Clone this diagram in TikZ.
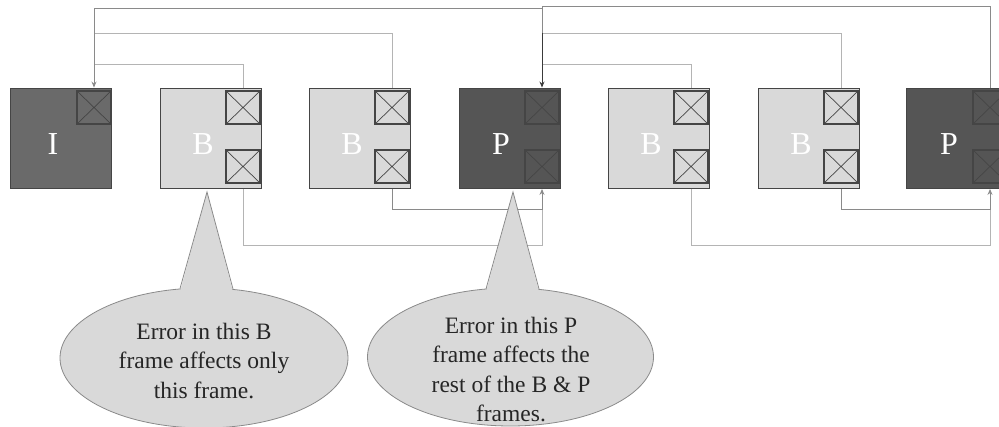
\documentclass[tikz,border=0pt]{standalone}
\usepackage{fontspec}
\setmainfont{Liberation Serif}
\usetikzlibrary{shapes.geometric,arrows.meta,calc}
\definecolor{bfill}{HTML}{D9D9D9}
\definecolor{ifill}{HTML}{6A6A6A}
\definecolor{pfill}{HTML}{555555}
\definecolor{edgec}{HTML}{454545}
\definecolor{lightln}{HTML}{B4B4B4}
\definecolor{midln}{HTML}{8A8A8A}
\definecolor{darkln}{HTML}{3A3A3A}
\definecolor{txtc}{HTML}{262626}
\tikzset{
  framebox/.style={draw=edgec, line width=0.9pt, minimum width=101.5pt, minimum height=100.5pt, inner sep=0pt},
  xbox/.style={draw=edgec, line width=1.1pt, minimum width=34pt, minimum height=33pt, inner sep=0pt,
    path picture={\draw[edgec, line width=0.7pt] (path picture bounding box.north west) -- (path picture bounding box.south east)
      (path picture bounding box.north east) -- (path picture bounding box.south west);}},
  lbl/.style={text=white, font=\fontsize{32}{34}\selectfont, inner sep=0pt},
  lnlight/.style={draw=lightln, line width=0.9pt},
  lnmid/.style={draw=midln, line width=0.9pt},
  lndark/.style={draw=darkln, line width=0.9pt},
  tip/.style={-{Stealth[length=6pt,width=5pt]}},
  callout/.style={ellipse, fill=bfill, draw=midln, line width=0.8pt, inner sep=0pt},
  ctext/.style={align=center, text=txtc, font=\fontsize{23.5}{29.5}\selectfont, inner sep=0pt}
}
\begin{document}
\begin{tikzpicture}[x=1pt,y=-1pt]
\useasboundingbox (0,0) rectangle (999,427);

% rail heights
\coordinate (r0) at (0,6);
\coordinate (r1) at (0,8.5);
\coordinate (r2) at (0,33);
\coordinate (r3) at (0,64.5);
\coordinate (r4) at (0,209);
\coordinate (r5) at (0,245);

% frames
\node[framebox, fill=ifill] (fI)  at (60.75,138.25) {};
\node[framebox, fill=bfill] (fB2) at (210.75,138.25) {};
\node[framebox, fill=bfill] (fB3) at (359.75,138.25) {};
\node[framebox, fill=pfill] (fP4) at (509.75,138.25) {};
\node[framebox, fill=bfill] (fB5) at (658.75,138.25) {};
\node[framebox, fill=bfill] (fB6) at (808.75,138.25) {};
\node[framebox, fill=pfill] (fP7) at (956.75,138.25) {};

% letters
\node[lbl] (lI)  at (53,144) {I};
\node[lbl] (lB2) at (203,144) {B};
\node[lbl] (lB3) at (352,144) {B};
\node[lbl] (lP4) at (501,144) {P};
\node[lbl] (lB5) at (651,144) {B};
\node[lbl] (lB6) at (801,144) {B};
\node[lbl] (lP7) at (949,144) {P};

% small boxes
\node[xbox, fill=ifill] (iT)  at (94,107.5) {};
\node[xbox, fill=bfill] (b2T) at (243,107.5) {};
\node[xbox, fill=bfill] (b2B) at (243,166.5) {};
\node[xbox, fill=bfill] (b3T) at (392,107.5) {};
\node[xbox, fill=bfill] (b3B) at (392,166.5) {};
\node[xbox, fill=pfill] (p4T) at (542,107.5) {};
\node[xbox, fill=pfill] (p4B) at (542,166.5) {};
\node[xbox, fill=bfill] (b5T) at (691,107.5) {};
\node[xbox, fill=bfill] (b5B) at (691,166.5) {};
\node[xbox, fill=bfill] (b6T) at (841,107.5) {};
\node[xbox, fill=bfill] (b6B) at (841,166.5) {};
\node[xbox, fill=pfill] (p7T) at (990,107.5) {};
\node[xbox, fill=pfill] (p7B) at (990,166.5) {};

% upper connectors
\draw[lnlight] (r3 -| iT.north) -| (b2T.north |- fB2.north);
\draw[lnlight] (r2 -| iT.north) -| (b3T.north |- fB3.north);
\draw[lnlight] (r3 -| p4T.north) -| (b5T.north |- fB5.north);
\draw[lnlight] (r2 -| p4T.north) -| (b6T.north |- fB6.north);
\draw[lnmid, tip] (r1 -| p4T.north) -| (iT.north |- fI.north);
\draw[lnmid] (p7T.north |- fP7.north) |- (r0 -| p4T.north) -- (r2 -| p4T.north);
\draw[lndark, tip] (r2 -| p4T.north) -- (p4T.north |- fP4.north);

% lower connectors
\draw[lnlight] (b2B.south |- fB2.south) |- (r5 -| p4B.south) -- (r4 -| p4B.south);
\draw[lnmid, tip] (b3B.south |- fB3.south) |- (r4 -| p4B.south) -- (p4B.south |- fP4.south);
\draw[lnlight] (b5B.south |- fB5.south) |- (r5 -| p7B.south) -- (r4 -| p7B.south);
\draw[lnmid, tip] (b6B.south |- fB6.south) |- (r4 -| p7B.south) -- (p7B.south |- fP7.south);

% callouts
\coordinate (tip1) at (207,192);
\coordinate (tip2) at (513,192);
\node[callout, minimum width=288pt, minimum height=140pt] (c1) at (204,358) {};
\node[callout, minimum width=286pt, minimum height=138pt] (c2) at (510.5,357) {};
\fill[bfill] (tip1) -- (180,292) -- (233,292) -- cycle;
\fill[bfill] (tip2) -- (486,292) -- (539,292) -- cycle;
\draw[midln, line width=0.8pt] (180,288.6) -- (tip1) -- (233,289);
\draw[midln, line width=0.8pt] (486,289) -- (tip2) -- (539,289);
\node[ctext] (t1) at (204,361) {Error in this B\\frame affects only\\this frame.};
\node[ctext] (t2) at (511,369.5) {Error in this P\\frame affects the\\rest of the B \& P\\frames.};
\end{tikzpicture}
\end{document}
